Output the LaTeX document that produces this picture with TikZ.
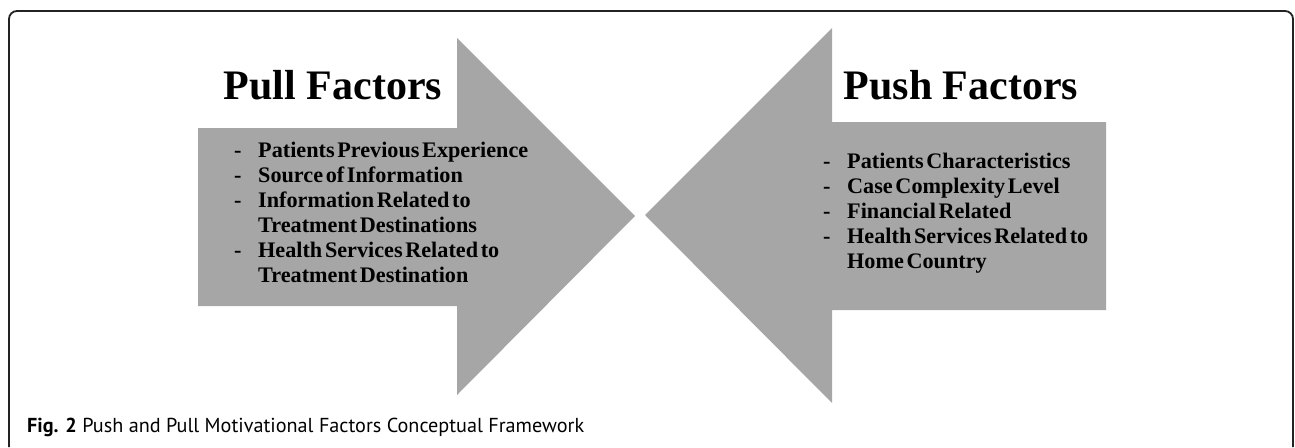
\documentclass[tikz,border=0pt]{standalone}
\usepackage{fontspec}
\setmainfont{Liberation Serif}
\newfontfamily\capfont{PT Sans}
\usepackage{array}
\definecolor{arrowgray}{RGB}{166,166,166}
\definecolor{framegray}{RGB}{35,35,35}
\newcommand{\tightspaces}{\spaceskip=0.12em plus 0.02em\relax}
\begin{document}
\begin{tikzpicture}[x=1pt,y=-1pt,
  titletext/.style={font=\bfseries\fontsize{42}{48}\selectfont, anchor=base, inner sep=0pt},
  listtext/.style={font=\bfseries\fontsize{22.2}{25}\selectfont\tightspaces, anchor=base west, inner sep=0pt},
  arrowshape/.style={fill=arrowgray}]
\useasboundingbox (0,0) rectangle (1295,447);
% frame
\draw[framegray, line width=1.8pt, rounded corners=8pt] (9,447) -- (9,11) -- (1293,11) -- (1293,447);
% pull arrow
\fill[arrowshape] (198,128) -- (457,128) -- (457,38) -- (635,216) -- (457,395) -- (457,306) -- (198,306) -- cycle;
% push arrow
\fill[arrowshape] (1106,122) -- (832,122) -- (832,28) -- (645,215) -- (832,403) -- (832,310) -- (1106,310) -- cycle;
% titles
\node[titletext] (pulltitle) at (333,99) {Pull Factors};
\node[titletext] (pushtitle) at (961,99) {Push Factors};
% lists
\node[listtext] (pulllist) at (234,157) {\begin{tabular}[t]{@{}p{24pt}@{}l@{}}
- & Patients Previous Experience\\
- & Source of Information\\
- & Information Related to\\
  & Treatment Destinations\\
- & Health Services Related to\\
  & Treatment Destination
\end{tabular}};
\node[listtext] (pushlist) at (823,168) {\begin{tabular}[t]{@{}p{24pt}@{}l@{}}
- & Patients Characteristics\\
- & Case Complexity Level\\
- & Financial Related\\
- & Health Services Related to\\
  & Home Country
\end{tabular}};
% caption
\node[anchor=base west, font=\capfont\fontsize{20.2}{24}\selectfont, inner sep=0pt] (caption) at (27,432) {\textbf{Fig. 2} Push and Pull Motivational Factors Conceptual Framework};
\end{tikzpicture}
\end{document}
